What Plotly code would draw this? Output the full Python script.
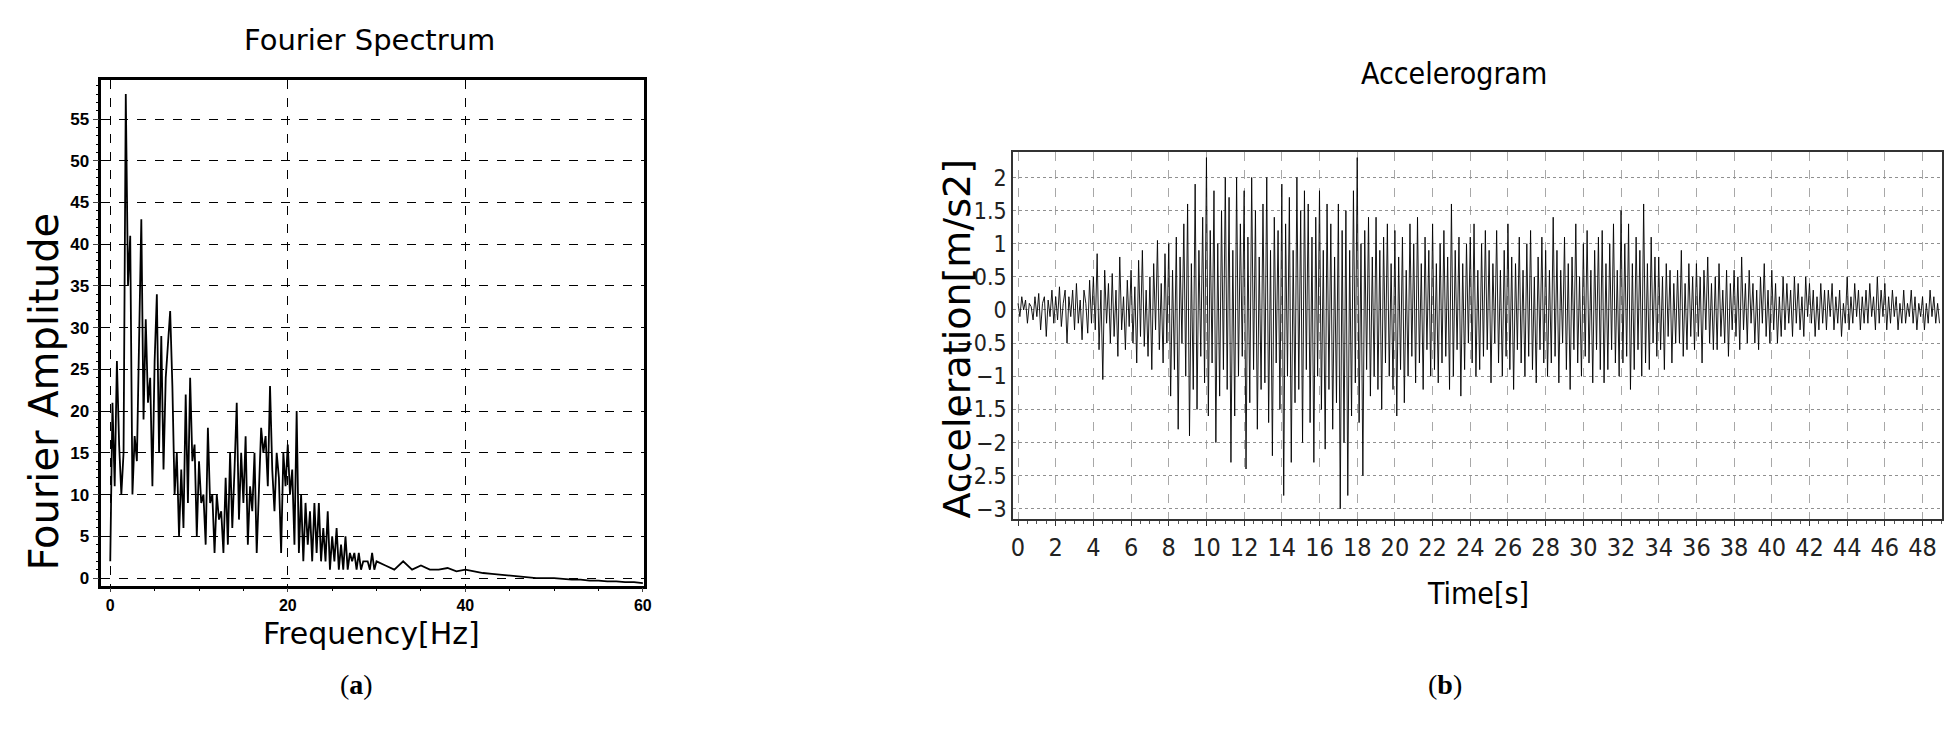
import numpy as np
import plotly.graph_objects as go

# Fourier spectrum: amplitudes every 0.25 Hz up to 30 Hz, then every 1 Hz to 60 Hz
spec_dense = [
    2, 21, 11, 26, 16, 10, 15, 58, 35, 41, 10, 17, 14, 30, 43, 19,
    31, 21, 24, 11, 26, 34, 15, 29, 13, 24, 28, 32, 23, 10, 15, 5,
    13, 6, 22, 9, 24, 14, 16, 5, 14, 9, 10, 4, 18, 9, 10, 3,
    10, 7, 8, 3, 12, 4, 15, 6, 13, 21, 7, 15, 9, 17, 4, 11,
    8, 15, 3, 10, 18, 15, 17, 11, 23, 13, 8, 15, 12, 3, 15, 11,
    16, 10, 13, 4, 20, 3, 10, 2, 9, 4, 8, 2, 9, 3, 9, 2,
    6, 2, 8, 1, 5, 2, 6, 1, 4, 1, 5, 1, 3, 2, 3, 1,
    3, 1, 2, 2, 2, 1, 3, 1,
]
spec_tail = [2, 1.5, 1, 2, 1, 1.5, 1, 1, 1.2, 0.8, 1, 0.8, 0.6, 0.5, 0.4, 0.3,
             0.2, 0.1, 0, 0, 0, -0.1, -0.2, -0.2, -0.3, -0.3, -0.4, -0.4, -0.5, -0.5, -0.6]
freq = list(np.arange(len(spec_dense)) * 0.25) + list(30 + np.arange(len(spec_tail)))
amp = spec_dense + spec_tail

# Accelerogram: one row per second, sampled every 0.1 s
accel = [
    0.1,-0.1,0.2,0.0,0.15,-0.2,0.1,0.05,-0.15,0.2,
    -0.1,0.25,-0.3,0.1,0.2,-0.4,0.15,-0.1,0.3,-0.2,
    0.2,-0.15,0.35,-0.25,0.1,0.3,-0.5,0.2,-0.1,0.3,
    -0.3,0.4,-0.2,0.15,-0.45,0.3,0.1,-0.35,0.45,-0.2,
    0.5,-0.3,0.85,-0.6,0.3,-1.05,0.6,-0.2,0.4,-0.5,
    0.55,-0.4,0.3,-0.7,0.8,-0.3,0.2,-0.6,0.45,-0.25,
    0.6,-0.5,0.35,-0.8,0.75,-0.4,0.9,-0.55,0.3,-0.7,
    0.5,-0.9,0.7,-0.3,1.05,-0.6,0.4,-0.8,0.85,-0.5,
    1.0,-1.3,0.6,-0.9,1.1,-1.8,0.8,-0.5,1.3,-1.0,
    1.6,-1.9,0.7,-1.2,1.9,-1.5,0.9,-0.7,1.4,-1.1,
    2.3,-1.6,1.2,-0.8,1.8,-2.0,1.0,-1.3,1.5,-0.9,
    2.0,-1.2,1.7,-2.3,0.9,-1.6,2.0,-1.0,1.3,-0.7,
    1.8,-2.4,1.1,-1.4,2.0,-0.9,1.5,-1.8,0.8,-1.2,
    1.6,-1.1,2.0,-1.7,0.9,-2.2,1.4,-0.8,1.2,-1.5,
    1.9,-2.8,1.3,-1.0,1.7,-2.3,0.9,-1.4,2.0,-1.2,
    1.5,-2.0,1.8,-0.9,1.6,-1.7,1.1,-2.3,1.4,-1.0,
    1.8,-1.5,0.9,-2.1,1.6,-1.2,1.3,-1.8,0.8,-1.4,
    1.6,-3.0,1.2,-2.0,1.5,-2.8,0.9,-1.6,1.8,-1.1,
    2.3,-1.7,1.0,-2.5,1.2,-0.9,1.4,-1.3,0.8,-1.0,
    1.4,-1.2,0.9,-1.5,1.1,-0.8,1.3,-1.0,0.7,-1.2,
    1.2,-1.6,0.8,-0.9,1.1,-1.4,0.6,-1.0,1.3,-0.7,
    1.0,-1.1,1.4,-0.8,0.7,-1.2,1.1,-0.6,0.9,-1.0,
    1.3,-0.9,0.7,-1.1,1.0,-0.8,1.2,-0.7,0.8,-1.2,
    1.6,-1.0,0.9,-0.6,1.1,-1.3,0.7,-0.9,1.0,-0.5,
    1.1,-0.8,1.3,-1.0,0.6,-0.9,1.0,-0.7,1.2,-0.6,
    0.9,-1.1,0.7,-0.5,1.2,-0.8,0.6,-1.0,0.9,-0.7,
    1.3,-0.9,0.8,-1.2,0.7,-0.6,1.1,-0.8,0.6,-1.0,
    1.0,-0.7,1.2,-0.9,0.5,-1.1,0.8,-0.6,1.1,-0.8,
    0.9,-1.0,0.6,-0.8,1.4,-0.7,0.9,-1.1,0.6,-0.5,
    1.1,-0.9,0.7,-1.2,0.8,-0.6,1.3,-0.8,0.5,-1.0,
    1.0,-0.7,1.2,-0.8,0.6,-1.1,0.9,-0.6,1.1,-0.9,
    1.2,-1.1,0.7,-0.9,1.0,-0.6,1.3,-0.8,0.6,-1.0,
    1.5,-0.8,1.0,-0.7,1.3,-1.2,0.7,-0.9,1.1,-0.6,
    0.9,-1.0,1.6,-0.8,0.7,-0.9,1.1,-0.5,0.8,-0.7,
    0.8,-0.6,0.5,-0.9,0.7,-0.4,0.6,-0.8,0.4,-0.5,
    0.6,-0.5,0.9,-0.7,0.4,-0.6,0.7,-0.4,0.5,-0.6,
    0.7,-0.4,0.5,-0.8,0.6,-0.3,0.8,-0.5,0.4,-0.6,
    0.5,-0.6,0.7,-0.4,0.3,-0.5,0.6,-0.7,0.4,-0.3,
    0.6,-0.4,0.5,-0.6,0.8,-0.3,0.4,-0.5,0.6,-0.2,
    0.4,-0.5,0.3,-0.6,0.5,-0.2,0.7,-0.4,0.3,-0.5,
    0.6,-0.3,0.4,-0.5,0.2,-0.4,0.5,-0.3,0.4,-0.2,
    0.3,-0.4,0.5,-0.2,0.4,-0.3,0.2,-0.4,0.5,-0.1,
    0.4,-0.2,0.3,-0.4,0.2,-0.3,0.4,-0.2,0.3,-0.3,
    0.3,-0.1,0.4,-0.3,0.2,-0.2,0.3,-0.4,0.1,-0.2,
    0.5,-0.3,0.2,-0.2,0.4,-0.1,0.3,-0.3,0.2,-0.2,
    0.3,-0.2,0.4,-0.1,0.2,-0.3,0.5,-0.2,0.3,-0.1,
    0.4,-0.3,0.2,-0.2,0.3,-0.1,0.2,-0.3,0.1,-0.2,
    0.3,-0.2,0.1,-0.1,0.3,-0.2,0.2,-0.3,0.1,-0.1,
    0.2,-0.3,0.1,-0.2,0.3,-0.1,0.2,-0.2,0.1,-0.2,
]
time = np.arange(len(accel)) * 0.1

y_ticks_a = list(range(0, 60, 5))
x_ticks_a = [0, 20, 40, 60]
x_ticks_b = list(range(0, 49, 2))
y_ticks_b = [2, 1.5, 1, 0.5, 0, -0.5, -1, -1.5, -2, -2.5, -3]

fig = go.Figure()
fig.add_trace(go.Scatter(x=freq, y=amp, mode='lines', line=dict(color='black', width=1.8),
                         xaxis='x', yaxis='y', showlegend=False))
fig.add_trace(go.Scatter(x=time, y=accel, mode='lines', line=dict(color='black', width=0.9),
                         xaxis='x2', yaxis='y2', showlegend=False))

sans = "Liberation Sans"
narrow = "Liberation Sans Narrow, DejaVu Sans Condensed, Liberation Sans"


def label(text, x, y, family, size, angle=0):
    return dict(text=text, x=x, y=y, xref='paper', yref='paper', xanchor='center',
                yanchor='middle', textangle=angle, showarrow=False,
                font=dict(family=family, size=size, color='black'))


fig.update_layout(
    width=1954, height=754, margin=dict(l=0, r=0, t=0, b=0),
    paper_bgcolor='white', plot_bgcolor='white',
    xaxis=dict(domain=[0.047, 0.326], anchor='y', range=[-1, 60.1],
               tickvals=x_ticks_a, ticks='outside', ticklen=4,
               tickfont=dict(family=sans, size=16, color='black', weight='bold'),
               minor=dict(dtick=5, ticks='outside', ticklen=3, tickcolor='black'),
               showgrid=True, gridcolor='black', griddash='dash', gridwidth=1.2,
               showline=True, linecolor='black', linewidth=2.5, mirror=True, zeroline=False),
    yaxis=dict(domain=[0.232, 0.9045], anchor='x', range=[-0.9, 59.7],
               tickvals=y_ticks_a, ticks='outside', ticklen=6,
               tickfont=dict(family=sans, size=17, color='black', weight='bold'),
               minor=dict(dtick=1, ticks='outside', ticklen=3, tickcolor='black'),
               showgrid=True, gridcolor='black', griddash='dash', gridwidth=1.2,
               showline=True, linecolor='black', linewidth=2.5, mirror=True, zeroline=False),
    xaxis2=dict(domain=[0.516, 0.994], anchor='y2', range=[-0.26, 49.05],
                tickvals=x_ticks_b, ticks='outside', ticklen=5, tickcolor='#333',
                tickfont=dict(family=narrow, size=25, color='#222'),
                minor=dict(dtick=0.5, ticks='outside', ticklen=3, tickcolor='#555'),
                showgrid=True, gridcolor='#a8a8a8', griddash='dash', gridwidth=1,
                showline=True, linecolor='#333', linewidth=2, mirror=True, zeroline=False),
    yaxis2=dict(domain=[0.320, 0.809], anchor='x2', range=[-3.16, 2.39],
                tickvals=y_ticks_b, ticks='', tickfont=dict(family=narrow, size=23, color='#222'),
                showgrid=True, gridcolor='#909090', griddash='dot', gridwidth=1,
                showline=True, linecolor='#333', linewidth=1.5, mirror=True, zeroline=False),
    annotations=[
        label('Fourier Spectrum', 0.185, 0.957, 'DejaVu Sans', 29),
        label('Frequency[Hz]', 0.186, 0.168, 'DejaVu Sans', 30),
        label('Fourier Amplitude', 0.017, 0.49, 'DejaVu Sans', 40, -90),
        label('Accelerogram', 0.743, 0.913, narrow, 30),
        label('Time[s]', 0.755, 0.222, narrow, 30),
        label('Acceleration[m/s2]', 0.487, 0.56, 'DejaVu Sans', 38, -90),
        label('(<b>a</b>)', 0.178, 0.1, 'Liberation Serif', 28),
        label('(<b>b</b>)', 0.738, 0.1, 'Liberation Serif', 28),
    ],
)

fig.write_html("out.html")
